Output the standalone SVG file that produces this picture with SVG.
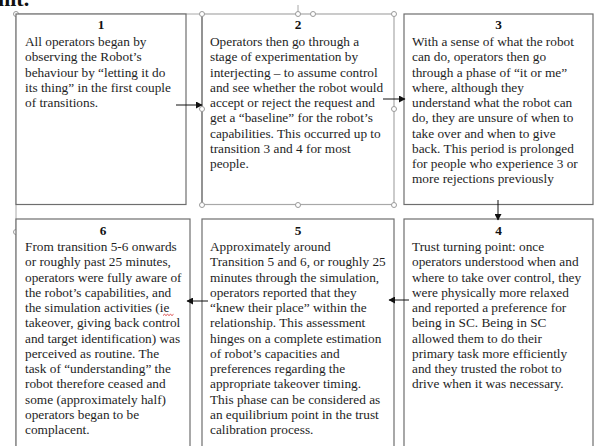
<svg xmlns="http://www.w3.org/2000/svg" width="595" height="446" viewBox="0 0 595 446">
<style>
.box{fill:#fff;stroke:#6e6e6e;stroke-width:1.2}
.sel{fill:none;stroke:#a8a8a8;stroke-width:1}
.h{fill:#fff;stroke:#9a9a9a;stroke-width:1}
.num{font-family:"Liberation Serif",serif;font-size:13.3px;font-weight:bold;fill:#111;text-anchor:middle}
.t{font-family:"Liberation Serif",serif;font-size:13.3px;fill:#1e1e1e}
.c{stroke:#111;stroke-width:1;fill:none}
</style>
<defs>
<marker id="ah" markerWidth="7" markerHeight="7" refX="6" refY="3.5" orient="auto" markerUnits="userSpaceOnUse">
<path d="M0,0 L6.5,3.5 L0,7 z" fill="#111"/>
</marker>
</defs>
<rect width="595" height="446" fill="#fff"/>
<text x="-2" y="6" style="font-family:'Liberation Serif',serif;font-size:22px;font-weight:bold;fill:#111">nit.</text>
<g id="canvas">
<line class="sel" x1="16" y1="14" x2="16" y2="446"/>
<line class="sel" x1="16" y1="14" x2="202" y2="14"/>
<circle class="h" cx="16" cy="14" r="2.5"/>
<circle class="h" cx="16" cy="232" r="2.5"/>
</g>
<g id="node1">
<rect class="box" x="16" y="14" width="170" height="190.5"/>
<text class="num" x="101" y="29">1</text>
<text class="t" x="25" y="46"><tspan x="25">All operators began by</tspan><tspan x="25" dy="15.25">observing the Robot’s</tspan><tspan x="25" dy="15.25">behaviour by “letting it do</tspan><tspan x="25" dy="15.25">its thing” in the first couple</tspan><tspan x="25" dy="15.25">of transitions.</tspan></text>
</g>
<g id="node2">
<rect class="box" x="202" y="14" width="192" height="190.5" style="stroke:#a8a8a8"/>
<line x1="202" y1="14" x2="202" y2="205" stroke="#6e6e6e" stroke-width="1.2"/>
<line class="sel" x1="298" y1="5" x2="298" y2="14"/>
<circle class="h" cx="202" cy="14" r="2.5"/>
<circle class="h" cx="298" cy="14" r="2.5"/>
<circle class="h" cx="313" cy="14" r="2.5"/>
<circle class="h" cx="394" cy="14" r="2.5"/>
<circle class="h" cx="202" cy="109" r="2.5"/>
<circle class="h" cx="394" cy="109" r="2.5"/>
<circle class="h" cx="202" cy="205" r="2.5"/>
<circle class="h" cx="298" cy="205" r="2.5"/>
<circle class="h" cx="394" cy="205" r="2.5"/>
<text class="num" x="298" y="29">2</text>
<text class="t" x="210" y="46"><tspan x="210">Operators then go through a</tspan><tspan x="210" dy="15.25">stage of experimentation by</tspan><tspan x="210" dy="15.25">interjecting – to assume control</tspan><tspan x="210" dy="15.25">and see whether the robot would</tspan><tspan x="210" dy="15.25">accept or reject the request and</tspan><tspan x="210" dy="15.25">get a “baseline” for the robot’s</tspan><tspan x="210" dy="15.25">capabilities. This occurred up to</tspan><tspan x="210" dy="15.25">transition 3 and 4 for most</tspan><tspan x="210" dy="15.25">people.</tspan></text>
</g>
<g id="node3">
<rect class="box" x="404" y="14" width="189" height="190.5"/>
<text class="num" x="498.5" y="29">3</text>
<text class="t" x="412" y="46"><tspan x="412">With a sense of what the robot</tspan><tspan x="412" dy="15.25">can do, operators then go</tspan><tspan x="412" dy="15.25">through a phase of “it or me”</tspan><tspan x="412" dy="15.25">where, although they</tspan><tspan x="412" dy="15.25">understand what the robot can</tspan><tspan x="412" dy="15.25">do, they are unsure of when to</tspan><tspan x="412" dy="15.25">take over and when to give</tspan><tspan x="412" dy="15.25">back. This period is prolonged</tspan><tspan x="412" dy="15.25">for people who experience 3 or</tspan><tspan x="412" dy="15.25">more rejections previously</tspan></text>
</g>
<g id="node4">
<rect class="box" x="404" y="219" width="189" height="240"/>
<text class="num" x="498.5" y="235">4</text>
<text class="t" x="412" y="251"><tspan x="412">Trust turning point: once</tspan><tspan x="412" dy="15.25">operators understood when and</tspan><tspan x="412" dy="15.25">where to take over control, they</tspan><tspan x="412" dy="15.25">were physically more relaxed</tspan><tspan x="412" dy="15.25">and reported a preference for</tspan><tspan x="412" dy="15.25">being in SC. Being in SC</tspan><tspan x="412" dy="15.25">allowed them to do their</tspan><tspan x="412" dy="15.25">primary task more efficiently</tspan><tspan x="412" dy="15.25">and they trusted the robot to</tspan><tspan x="412" dy="15.25">drive when it was necessary.</tspan></text>
</g>
<g id="node5">
<rect class="box" x="202" y="219" width="192" height="240"/>
<text class="num" x="298" y="235">5</text>
<text class="t" x="210" y="251"><tspan x="210">Approximately around</tspan><tspan x="210" dy="15.25">Transition 5 and 6, or roughly 25</tspan><tspan x="210" dy="15.25">minutes through the simulation,</tspan><tspan x="210" dy="15.25">operators reported that they</tspan><tspan x="210" dy="15.25">“knew their place” within the</tspan><tspan x="210" dy="15.25">relationship. This assessment</tspan><tspan x="210" dy="15.25">hinges on a complete estimation</tspan><tspan x="210" dy="15.25">of robot’s capacities and</tspan><tspan x="210" dy="15.25">preferences regarding the</tspan><tspan x="210" dy="15.25">appropriate takeover timing.</tspan><tspan x="210" dy="15.25">This phase can be considered as</tspan><tspan x="210" dy="15.25">an equilibrium point in the trust</tspan><tspan x="210" dy="15.25">calibration process.</tspan></text>
</g>
<g id="node6">
<rect class="box" x="16" y="219" width="174" height="240"/>
<text class="num" x="103" y="235">6</text>
<text class="t" x="25" y="251"><tspan x="25">From transition 5-6 onwards</tspan><tspan x="25" dy="15.25">or roughly past 25 minutes,</tspan><tspan x="25" dy="15.25">operators were fully aware of</tspan><tspan x="25" dy="15.25">the robot’s capabilities, and</tspan><tspan x="25" dy="15.25">the simulation activities (ie</tspan><tspan x="25" dy="15.25">takeover, giving back control</tspan><tspan x="25" dy="15.25">and target identification) was</tspan><tspan x="25" dy="15.25">perceived as routine. The</tspan><tspan x="25" dy="15.25">task of “understanding” the</tspan><tspan x="25" dy="15.25">robot therefore ceased and</tspan><tspan x="25" dy="15.25">some (approximately half)</tspan><tspan x="25" dy="15.25">operators began to be</tspan><tspan x="25" dy="15.25">complacent.</tspan></text>
<path d="M163,315.5 l1.5,-1.2 l1.5,1.2 l1.5,-1.2 l1.5,1.2 l1.5,-1.2 l1.5,1.2 l1.5,-1.2" fill="none" stroke="#d02020" stroke-width="0.8"/>
</g>
<g id="connectors">
<line class="c" x1="176" y1="105" x2="202" y2="105" marker-end="url(#ah)"/>
<line class="c" x1="383" y1="99" x2="405" y2="99" marker-end="url(#ah)"/>
<line class="c" x1="498" y1="200" x2="498" y2="220" marker-end="url(#ah)"/>
<line class="c" x1="409" y1="300" x2="389" y2="300" marker-end="url(#ah)"/>
<line class="c" x1="208" y1="301" x2="187" y2="301" marker-end="url(#ah)"/>
</g>
</svg>
